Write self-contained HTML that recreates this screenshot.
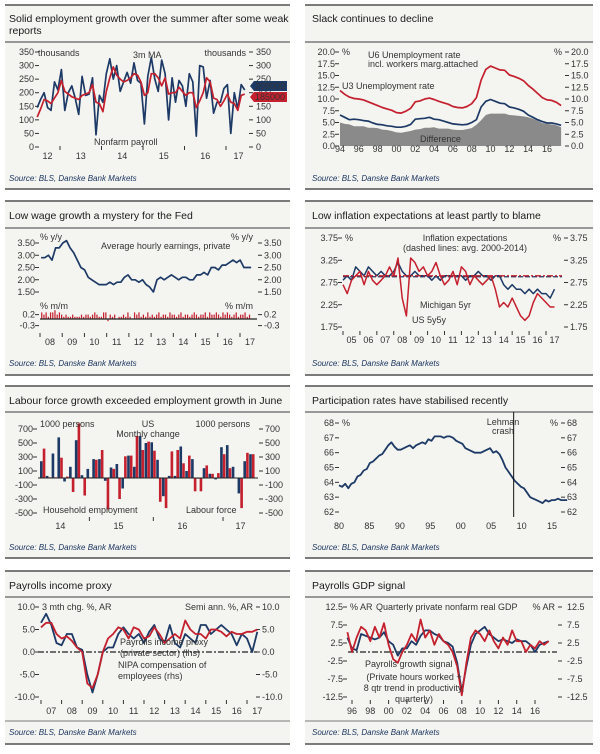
<!DOCTYPE html>
<html><head><meta charset="utf-8"><style>
html,body{margin:0;padding:0;background:#fff;}
svg{display:block;font-family:"Liberation Sans",sans-serif;}
.ttl{font-size:10.5px;fill:#1a1a1a;}
.src{font-size:8px;font-style:italic;fill:#1b3560;}
.tk{font-size:9px;fill:#333;}
</style></head><body>
<svg id="root" width="600" height="754" viewBox="0 0 600 754" xmlns="http://www.w3.org/2000/svg">
<g>
<rect x="5" y="5" width="285" height="184" fill="#f4f4f0"/>
<rect x="305" y="5" width="288" height="184" fill="#f4f4f0"/>
<rect x="5" y="201" width="285" height="174" fill="#f4f4f0"/>
<rect x="305" y="201" width="288" height="174" fill="#f4f4f0"/>
<rect x="5" y="386" width="285" height="172" fill="#f4f4f0"/>
<rect x="305" y="386" width="288" height="172" fill="#f4f4f0"/>
<rect x="5" y="571" width="285" height="173" fill="#f4f4f0"/>
<rect x="305" y="571" width="288" height="173" fill="#f4f4f0"/>
</g>
<g stroke="#7a7a7a">
<line x1="5" x2="290" y1="5" y2="5" stroke-width="2"/><line x1="5" x2="290" y1="42" y2="42" stroke-width="1.5"/><line x1="5" x2="290" y1="189" y2="189" stroke-width="2"/>
<line x1="305" x2="593" y1="5" y2="5" stroke-width="2"/><line x1="305" x2="593" y1="42" y2="42" stroke-width="1.5"/><line x1="305" x2="593" y1="189" y2="189" stroke-width="2"/>
<line x1="5" x2="290" y1="201" y2="201" stroke-width="2"/><line x1="5" x2="290" y1="228" y2="228" stroke-width="1.5"/><line x1="5" x2="290" y1="375" y2="375" stroke-width="2"/>
<line x1="305" x2="593" y1="201" y2="201" stroke-width="2"/><line x1="305" x2="593" y1="228" y2="228" stroke-width="1.5"/><line x1="305" x2="593" y1="375" y2="375" stroke-width="2"/>
<line x1="5" x2="290" y1="386" y2="386" stroke-width="2"/><line x1="5" x2="290" y1="412" y2="412" stroke-width="1.5"/><line x1="5" x2="290" y1="558" y2="558" stroke-width="2"/>
<line x1="305" x2="593" y1="386" y2="386" stroke-width="2"/><line x1="305" x2="593" y1="412" y2="412" stroke-width="1.5"/><line x1="305" x2="593" y1="558" y2="558" stroke-width="2"/>
<line x1="5" x2="290" y1="571" y2="571" stroke-width="2"/><line x1="5" x2="290" y1="597" y2="597" stroke-width="1.5"/><line x1="5" x2="290" y1="721" y2="721" stroke-width="1"/><line x1="5" x2="290" y1="744" y2="744" stroke-width="2"/>
<line x1="305" x2="593" y1="571" y2="571" stroke-width="2"/><line x1="305" x2="593" y1="597" y2="597" stroke-width="1.5"/><line x1="305" x2="593" y1="721" y2="721" stroke-width="1"/><line x1="305" x2="593" y1="744" y2="744" stroke-width="2"/>
</g>
<text class="ttl" x="9" y="22">Solid employment growth over the summer after some weak</text>
<text class="ttl" x="9" y="34">reports</text>
<text class="ttl" x="312" y="22">Slack continues to decline</text>
<text class="ttl" x="9" y="219">Low wage growth a mystery for the Fed</text>
<text class="ttl" x="312" y="219">Low inflation expectations at least partly to blame</text>
<text class="ttl" x="9" y="404">Labour force growth exceeded employment growth in June</text>
<text class="ttl" x="312" y="404">Participation rates have stabilised recently</text>
<text class="ttl" x="9" y="589">Payrolls income proxy</text>
<text class="ttl" x="312" y="589">Payrolls GDP signal</text>
<text class="src" x="9" y="181">Source: BLS, Danske Bank Markets</text>
<text class="src" x="312" y="181">Source: BLS, Danske Bank Markets</text>
<text class="src" x="9" y="366">Source: BLS, Danske Bank Markets</text>
<text class="src" x="312" y="366">Source: BLS, Danske Bank Markets</text>
<text class="src" x="9" y="550">Source: BLS, Danske Bank Markets</text>
<text class="src" x="312" y="550">Source: BLS, Danske Bank Markets</text>
<text class="src" x="9" y="735">Source: BLS, Danske Bank Markets</text>
<text class="src" x="312" y="735">Source: BLS, Danske Bank Markets</text>
<g id="charts"></g>
</svg>
<script>
var NAVY = '#1d3a66', RED = '#c4202e';
// Chart 1: payrolls
var payrollStart = 2012.45, payrollEnd = 2017.45;
var payrollValues = [145,175,200,145,135,240,210,285,135,200,225,180,120,260,190,195,255,45,190,165,270,325,250,300,205,240,275,235,310,245,235,85,260,330,250,205,320,270,100,255,165,245,225,150,270,240,40,300,295,180,245,125,165,165,215,230,50,200,140,230,210];
var payrollMA = [110,140,175,170,160,180,200,245,205,195,185,180,175,190,195,200,230,165,160,130,205,255,295,265,250,240,245,255,270,265,240,190,200,270,270,255,225,255,195,200,200,220,205,190,200,200,145,170,200,255,240,180,175,150,170,195,165,160,135,190,195];
var payrollTicks = [0,50,100,150,200,250,300,350];
var payrollYearLabels = ['12','13','14','15','16','17'];
var payrollYearPos = [2012.7,2013.5,2014.5,2015.5,2016.5,2017.3];
var payrollLastLabels = ['209000','185000'];
// Chart 2: unemployment
var unempStart = 1994, unempEnd = 2017.5;
var u6Values = [11.8,11.0,10.4,10.1,10.0,9.8,9.4,9.0,8.6,8.2,7.9,7.6,7.1,7.0,7.4,8.0,9.4,9.6,10.0,10.2,9.9,9.5,9.2,8.9,8.4,8.2,8.1,8.4,9.0,10.3,14.0,16.3,17.0,16.6,16.2,16.1,15.1,14.8,14.4,13.9,12.9,12.1,11.2,10.3,9.8,9.7,9.3,8.6];
var u3Values = [6.6,6.1,5.6,5.7,5.6,5.4,5.3,4.9,4.6,4.5,4.3,4.2,4.0,4.0,4.2,4.6,5.7,5.8,5.9,6.1,5.7,5.6,5.3,5.0,4.7,4.6,4.5,4.6,5.0,5.6,8.3,9.5,9.9,9.5,9.1,9.0,8.3,8.1,7.8,7.4,6.6,6.1,5.6,5.2,4.9,4.9,4.7,4.4];
var unempTicks = [0,2.5,5,7.5,10,12.5,15,17.5,20];
var unempTickLabels = ['0.0','2.5','5.0','7.5','10.0','12.5','15.0','17.5','20.0'];
var unempYears = [1994,1996,1998,2000,2002,2004,2006,2008,2010,2012,2014,2016];
var unempYearLabels = ['94','96','98','00','02','04','06','08','10','12','14','16'];
// Chart 3: wages
var wageStart = 2008.05, wageEnd = 2017.5;
var ahyValues = [2.9,2.9,3.0,2.8,3.3,3.3,3.5,3.6,3.3,3.1,2.8,2.5,2.4,2.1,2.0,1.9,1.8,1.8,1.8,1.9,1.8,1.9,1.9,2.1,2.2,2.0,2.0,1.9,2.0,1.8,1.7,1.5,2.0,2.1,2.0,2.1,2.2,2.1,2.0,2.1,2.1,2.0,2.0,2.2,2.2,2.3,2.2,2.5,2.5,2.4,2.6,2.6,2.7,2.8,2.7,2.8,2.5,2.5,2.5];
var mmValues = [0.3,0.2,0.3,0.1,0.3,0.3,0.4,0.2,0.3,0.2,0.1,0.2,0.1,0.1,0.2,0.1,0.1,0.1,0.2,0.1,0.2,0.2,0.1,0.2,0.3,0.2,0.1,0.1,0.3,0.3,-0.1,0.2,0.1,0.2,0.0,0.1,0.1,0.2,0.1,0.3,0.1,0.0,0.3,0.2,0.3,0.1,0.2,0.1,0.3,0.1,0.2,0.1,0.2,0.3,0.1,0.2,0.2,0.1,0.3,0.2,0.2,0.1,0.2,0.3,0.1,0.2,0.2,0.1,0.2,0.3,0.2,0.1,0.2,0.2,0.3,0.1,0.3,0.2,0.2,0.3,0.2,0.1,0.3,0.2,0.3,0.2,0.1,0.2,0.3,0.1,0.2,0.2,0.3,0.1,0.2];
var wageTicks = [1.5,2.0,2.5,3.0,3.5];
var wageTickLabels = ['1.50','2.00','2.50','3.00','3.50'];
var mmTicks = [-0.3,0.2];
var mmTickLabels = ['-0.3','0.2'];
var wageYears = [2008,2009,2010,2011,2012,2013,2014,2015,2016,2017];
var wageYearLabels = ['08','09','10','11','12','13','14','15','16','17'];
// Chart 4: inflation expectations
var inflStart = 2005, inflEnd = 2017.5;
var michValues = [2.8,2.9,2.8,3.1,3.0,2.9,3.1,3.0,2.9,3.0,2.9,2.9,3.0,3.2,3.0,2.9,2.9,3.0,2.9,2.9,2.9,2.8,2.9,2.8,2.9,2.9,2.9,2.9,2.9,2.8,2.9,2.9,3.0,2.9,2.9,2.8,2.9,2.9,2.7,2.6,2.7,2.6,2.6,2.5,2.6,2.5,2.6,2.5,2.5,2.4,2.6];
var fwdValues = [2.7,2.5,2.8,2.9,3.0,2.7,3.0,2.8,2.7,2.8,2.9,3.1,2.9,3.3,2.4,2.0,3.3,3.2,3.0,3.1,2.9,3.0,3.2,2.9,2.7,2.8,3.0,2.7,3.1,3.0,2.7,2.9,2.8,2.7,2.8,2.9,2.6,2.2,2.3,2.2,2.4,2.2,2.0,1.9,2.0,2.3,2.5,2.4,2.3,2.2,2.2];
var inflAvg = [2.88,2.9];
var inflTicks = [1.75,2.25,2.75,3.25,3.75];
var inflTickLabels = ['1.75','2.25','2.75','3.25','3.75'];
var inflYears = [2005,2006,2007,2008,2009,2010,2011,2012,2013,2014,2015,2016,2017];
var inflYearLabels = ['05','06','07','08','09','10','11','12','13','14','15','16','17'];
// Chart 5: labour force
var hhValues = [240,30,350,580,-50,160,540,40,130,270,270,-40,150,200,-150,320,160,600,500,510,260,-260,30,30,450,100,270,-10,140,60,-20,440,470,160,-220,240,340];
var lfValues = [420,10,10,290,20,-200,780,-250,10,260,400,-450,130,-300,310,320,600,400,520,390,-340,-430,380,400,210,320,-190,-190,180,60,70,340,140,0,-430,360,340];
var lfTicks = [-500,-300,-100,100,300,500,700];
var lfYearLabels = ['14','15','16','17'];
var lfYearIdx = [3,13,24,34];
// Chart 6: participation
var partStart = 1980, partEnd = 2017.5;
var partValues = [63.8,63.7,63.9,63.6,63.9,64.0,64.4,64.5,64.8,64.9,65.3,65.4,65.6,65.8,65.9,66.2,66.5,66.7,66.4,66.2,66.2,66.3,66.4,66.5,66.3,66.5,66.6,66.7,66.6,66.9,66.8,67.1,67.1,67.1,67.0,67.1,67.1,67.0,66.8,66.7,66.6,66.3,66.2,66.1,66.0,66.0,66.0,66.1,66.2,66.3,66.0,66.1,65.9,65.5,65.0,64.7,64.4,64.1,63.9,63.7,63.6,63.3,63.0,62.9,62.8,62.7,62.6,62.8,62.7,62.8,62.8,62.9,62.8,62.8,62.8];
var partTicks = [62,63,64,65,66,67,68];
var partYears = [1980,1985,1990,1995,2000,2005,2010,2015];
var partYearLabels = ['80','85','90','95','00','05','10','15'];
var lehmanYear = 2008.7;
// Chart 7: income proxy
var incStart = 2007, incEnd = 2017.5;
var nipaValues = [6.5,8.5,6,2,1.5,4,4,1,0.5,-5,-9,-5,0,1,1,4,5.5,4,3,4,2,4.5,6,3,2,6,2,1,4,3,2,6,6,4,5,6,5,4,1.5,4,3,0,4.5];
var proxyValues = [5.5,6.5,6.5,4,3,3.5,2.5,1,0,-7,-8,-5,0,3,4,5.5,5,3,5.5,5,3,3.5,5.5,4,2,3,4,3,7,5,4,4,3,5,5,4.5,3.5,4.5,4,4,4.5,4.5,5];
var incTicks = [-10,-5,0,5,10];
var incTickLabels = ['-10.0','-5.0','0.0','5.0','10.0'];
var incYears = [2007,2008,2009,2010,2011,2012,2013,2014,2015,2016,2017];
var incYearLabels = ['07','08','09','10','11','12','13','14','15','16','17'];
// Chart 8: GDP signal
var gdpStart = 1995.5, gdpEnd = 2017.5;
var signalValues = [4,1,0.5,5,4.5,4,3.5,4,5.5,3,2,-1,1,1,3,2,4.5,6,6,5,4.5,3,2.5,1.5,-3,-11,-4,2,5,6,7,5,4,3,3.5,3,2.5,3.5,3,3,2,0,2,2.5,3];
var gdpValues = [5.5,0,4,7,6,3,7,4,8,2,-2,-3,0,2,5,3,9,4,6,2,5,3,2,0,-4,-12,-3,4,6,5,3,6,3,1,4,2,6,3,3,0,2,1,3,2,3];
var gdpTicks = [-12.5,-7.5,-2.5,2.5,7.5,12.5];
var gdpTickLabels = ['-12.5','-7.5','-2.5','2.5','7.5','12.5'];
var gdpYears = [1996,1998,2000,2002,2004,2006,2008,2010,2012,2014,2016];
var gdpYearLabels = ['96','98','00','02','04','06','08','10','12','14','16'];

var NS = 'http://www.w3.org/2000/svg';
var root = document.getElementById('charts');
function mk(tag, attrs, parent) {
  var e = document.createElementNS(NS, tag);
  for (var k in attrs) e.setAttribute(k, attrs[k]);
  (parent || root).appendChild(e);
  return e;
}
function lin(d0, d1, p0, p1) { return function (v) { return p0 + (v - d0) * (p1 - p0) / (d1 - d0); }; }
function txt(x, y, s, cls, anchor, fill, size) {
  var t = mk('text', {x: x, y: y, 'class': cls || 'tk', 'text-anchor': anchor || 'start'});
  if (fill) t.setAttribute('fill', fill);
  if (size) t.setAttribute('font-size', size);
  t.textContent = s;
  return t;
}
function yAxis(name, ticks, labels, ys, L, R, lx, rx) {
  for (var i = 0; i < ticks.length; i++) {
    var y = ys(ticks[i]);
    var a = txt(lx, y + 3, labels[i], 'tk', 'end');
    
    
    var b = txt(rx, y + 3, labels[i], 'tk', 'start');
    
    
    var m1 = mk('line', {x1: L - 5, x2: L - 1, y1: y, y2: y, stroke: '#333', 'stroke-width': 1});
    
    
    var m2 = mk('line', {x1: R + 1, x2: R + 5, y1: y, y2: y, stroke: '#333', 'stroke-width': 1});
    
    
  }
}
function xLabels(name, vals, labels, xs, y) {
  for (var i = 0; i < vals.length; i++) {
    var t = txt(xs(vals[i]), y, labels[i], 'tk', 'middle');
    
    
  }
}
function xTicks(name, vals, xs, y) {
  for (var i = 0; i < vals.length; i++) {
    var l = mk('line', {x1: xs(vals[i]), x2: xs(vals[i]), y1: y, y2: y + 4, stroke: '#333', 'stroke-width': 1});
    
    
  }
}
function series(vals, t0, t1, xs, ys, color, w) {
  var d = '';
  for (var i = 0; i < vals.length; i++) {
    var t = t0 + (t1 - t0) * i / (vals.length - 1);
    d += (i ? 'L' : 'M') + xs(t).toFixed(1) + ' ' + ys(vals[i]).toFixed(1);
  }
  return mk('path', {d: d, fill: 'none', stroke: color, 'stroke-width': w || 1.6, 'stroke-linejoin': 'round'});
}

// ---- Chart 1
(function () {
  var xs = lin(2013, 2014, 60, 101.5), ys = lin(0, 350, 147, 52);
  yAxis('payroll', payrollTicks, payrollTicks.map(String), ys, 40, 248, 34, 256);
  xTicks('payroll', [2013, 2014, 2015, 2016, 2017], xs, 146);
  xLabels('payroll', payrollYearPos, payrollYearLabels, xs, 159);
  var p1 = series(payrollValues, payrollStart, payrollEnd, xs, ys, NAVY, 1.7);
  
  
  var p2 = series(payrollMA, payrollStart, payrollEnd, xs, ys, RED, 1.7);
  
  
  var cols = [NAVY, RED], vals = [payrollValues[payrollValues.length - 1], payrollMA[payrollMA.length - 1]];
  for (var i = 0; i < 2; i++) {
    var yy = 86 + i * 11;
    var bx = mk('path', {d: 'M250 ' + yy + 'L254 ' + (yy - 5) + 'H287V' + (yy + 5) + 'H254Z', fill: cols[i]});
    
    
    var bt = txt(270, yy + 3, payrollLastLabels[i], 'tk', 'middle', '#fff', '8px');
    
    
  }
  var a = txt(38, 56, 'thousands');  
  var b = txt(246, 56, 'thousands', 'tk', 'end');  
  var c = txt(133, 58, '3m MA', 'tk', 'start', RED, '10px');  
  var d = txt(94, 145, 'Nonfarm payroll', 'tk', 'start', NAVY, '10px');  
})();

// ---- Chart 2
(function () {
  var xs = lin(1994, 2016, 340, 547), ys = lin(0, 20, 146, 52);
  var top = '', bot = '';
  var n = u6Values.length;
  var d = '';
  for (var i = 0; i < n; i++) {
    var t = unempStart + (unempEnd - unempStart) * i / (n - 1);
    d += (i ? 'L' : 'M') + xs(t).toFixed(1) + ' ' + ys(u6Values[i] - u3Values[i] - 0.2).toFixed(1);
  }
  d += 'L' + xs(unempEnd) + ' ' + ys(0) + 'L' + xs(unempStart) + ' ' + ys(0) + 'Z';
  var ar = mk('path', {d: d, fill: '#8a8a8a'});
  
  
  yAxis('slack', unempTicks, unempTickLabels, ys, 340, 564, 335, 571);
  xLabels('slack', unempYears, unempYearLabels, xs, 152);
  var a = series(u6Values, unempStart, unempEnd, xs, ys, RED, 1.7);
   
  var b = series(u3Values, unempStart, unempEnd, xs, ys, NAVY, 1.7);
   
  var t1 = txt(368, 58, 'U6 Unemployment rate', 'tk', 'start', RED, '10px');  
  var t2 = txt(368, 67, 'incl. workers marg.attached', 'tk', 'start', RED, '10px');  
  var t3 = txt(342, 89, 'U3 Unemployment rate', 'tk', 'start', NAVY, '10px');  
  var t4 = txt(420, 142, 'Difference', 'tk', 'start', '#fff', '10px');  
  var t5 = txt(342, 55, '%');  
  var t6 = txt(562, 55, '%', 'tk', 'end');  
})();

// ---- Chart 3
(function () {
  var xs = lin(2008, 2017, 40, 240), ys = lin(1.5, 3.5, 292, 243), yb = lin(0, 0.5, 319, 308);
  yAxis('wage', wageTicks, wageTickLabels, ys, 40, 257, 35, 264);
  yAxis('wage-mm', mmTicks, mmTickLabels, yb, 40, 257, 35, 264);
  xTicks('wage', wageYears, xs, 333);
  xLabels('wage', wageYears.map(function (y) { return y + 0.45; }), wageYearLabels, xs, 345);
  var bw = (xs(wageEnd) - xs(wageStart)) / mmValues.length;
  for (var i = 0; i < mmValues.length; i++) {
    var v = mmValues[i], x = xs(wageStart) + i * bw;
    var r = mk('rect', {x: x, y: Math.min(yb(v), yb(0)), width: Math.max(bw * 0.55, 0.8), height: Math.abs(yb(v) - yb(0)), fill: RED});
    
    
  }
  var z = mk('line', {x1: 40, x2: 257, y1: yb(0), y2: yb(0), stroke: '#222', 'stroke-width': 1.2});
   
  var s = series(ahyValues, wageStart, wageEnd, xs, ys, NAVY, 1.7);
   
  var t1 = txt(101, 249, 'Average hourly earnings, private', 'tk', 'start', NAVY, '9.5px');  
  var t2 = txt(40, 240, '% y/y');  
  var t3 = txt(253, 240, '% y/y', 'tk', 'end');  
  var t4 = txt(40, 309, '% m/m');  
  var t5 = txt(253, 309, '% m/m', 'tk', 'end');  
})();

// ---- Chart 4
(function () {
  var xs = lin(2005, 2017, 343, 546), ys = lin(1.75, 3.75, 327, 238);
  yAxis('infl', inflTicks, inflTickLabels, ys, 343, 563, 338, 570);
  xTicks('infl', inflYears, xs, 331);
  xLabels('infl', inflYears.map(function (y) { return y + 0.5; }), inflYearLabels, xs, 343);
  var a1 = mk('line', {x1: 343, x2: 562, y1: ys(inflAvg[0]), y2: ys(inflAvg[0]), stroke: NAVY, 'stroke-width': 1.3, 'stroke-dasharray': '5 2'});
   
  var b = series(michValues, inflStart, inflEnd, xs, ys, NAVY, 1.5);
   
  var a = series(fwdValues, inflStart, inflEnd, xs, ys, RED, 1.5);
   
  var a2 = mk('line', {x1: 343, x2: 562, y1: ys(inflAvg[1]), y2: ys(inflAvg[1]), stroke: RED, 'stroke-width': 1.3, 'stroke-dasharray': '6 2 2 2'});
   
  var t1 = txt(465, 241, 'Inflation expectations', 'tk', 'middle', '#222', '9.5px');  
  var t2 = txt(465, 251, '(dashed lines: avg. 2000-2014)', 'tk', 'middle', '#222', '9.5px');  
  var t3 = txt(420, 308, 'Michigan 5yr', 'tk', 'start', NAVY, '10px');  
  var t4 = txt(412, 323, 'US 5y5y', 'tk', 'start', RED, '10px');  
  var t5 = txt(345, 241, '%');  
  var t6 = txt(561, 241, '%', 'tk', 'end');  
})();

// ---- Chart 5
(function () {
  var ys = lin(0, 700, 478, 429);
  var n = hhValues.length, x0 = 40, pw = (255 - 40) / n;
  yAxis('labour', lfTicks, lfTicks.map(String), ys, 38, 258, 33, 265);
  for (var i = 0; i < n; i++) {
    var h = mk('rect', {x: x0 + i * pw, y: Math.min(ys(hhValues[i]), ys(0)), width: pw * 0.45, height: Math.abs(ys(hhValues[i]) - ys(0)), fill: NAVY});
    
    
    var l = mk('rect', {x: x0 + i * pw + pw * 0.47, y: Math.min(ys(lfValues[i]), ys(0)), width: pw * 0.45, height: Math.abs(ys(lfValues[i]) - ys(0)), fill: RED});
    
    
  }
  var z = mk('line', {x1: 38, x2: 258, y1: ys(0), y2: ys(0), stroke: '#222', 'stroke-width': 1});
   
  for (var j = 0; j < lfYearLabels.length; j++) {
    var t = txt(x0 + lfYearIdx[j] * pw + pw / 2, 529, lfYearLabels[j], 'tk', 'middle');
    
    
  }
  var tk = [8.5, 19.5, 31.5];
  for (var k = 0; k < tk.length; k++) {
    var m = mk('line', {x1: x0 + tk[k] * pw, x2: x0 + tk[k] * pw, y1: 517, y2: 521, stroke: '#333'});
     
  }
  var t1 = txt(40, 427, '1000 persons');  
  var t2 = txt(250, 427, '1000 persons', 'tk', 'end');  
  var t3 = txt(148, 427, 'US', 'tk', 'middle');  
  var t4 = txt(148, 437, 'Monthly change', 'tk', 'middle');  
  var t5 = txt(43, 513, 'Household employment', 'tk', 'start', NAVY, '10px');  
  var t6 = txt(186, 513, 'Labour force', 'tk', 'start', RED, '10px');  
})();

// ---- Chart 6
(function () {
  var xs = lin(1980, 2015, 339, 552), ys = lin(62, 68, 512, 423);
  yAxis('part', partTicks, partTicks.map(String), ys, 340, 560, 334, 567);
  xLabels('part', partYears, partYearLabels, xs, 529);
  var s = series(partValues, partStart, partEnd, xs, ys, NAVY, 1.8);
   
  var v = mk('line', {x1: xs(lehmanYear), x2: xs(lehmanYear), y1: 412, y2: 517, stroke: '#111', 'stroke-width': 1});
   
  var t1 = txt(503, 425, 'Lehman', 'tk', 'middle', '#222', '7.5px');  
  var t2 = txt(503, 434, 'crash', 'tk', 'middle', '#222', '7.5px');  
  var t3 = txt(342, 426, '%');  
  var t4 = txt(558, 426, '%', 'tk', 'end');  
})();

// ---- Chart 7
(function () {
  var xs = lin(2007, 2017, 41, 247), ys = lin(-10, 10, 697, 607);
  yAxis('income', incTicks, incTickLabels, ys, 40, 255, 35, 262);
  xTicks('income', incYears, xs, 700);
  xLabels('income', incYears.map(function (y) { return y + 0.5; }), incYearLabels, xs, 714);
  var z = mk('line', {x1: 38, x2: 257, y1: ys(0), y2: ys(0), stroke: '#222', 'stroke-width': 1.2, 'stroke-dasharray': '6 2 2 2'});
   
  var a = series(nipaValues, incStart, incEnd, xs, ys, NAVY, 1.8);
   
  var b = series(proxyValues, incStart, incEnd, xs, ys, RED, 1.8);
   
  var t1 = txt(120, 645, 'Payrolls income proxy', 'tk', 'start', RED, '9.5px');  
  var t2 = txt(120, 656, '(private sector) (lhs)', 'tk', 'start', RED, '9.5px');  
  var t3 = txt(118, 668, 'NIPA compensation of', 'tk', 'start', NAVY, '9.5px');  
  var t4 = txt(118, 679, 'employees (rhs)', 'tk', 'start', NAVY, '9.5px');  
  var t5 = txt(42, 610, '3 mth chg. %, AR');  
  var t6 = txt(253, 610, 'Semi ann. %, AR', 'tk', 'end');  
})();

// ---- Chart 8
(function () {
  var xs = lin(1996, 2016, 352, 535), ys = lin(-12.5, 12.5, 697, 607);
  yAxis('gdp', gdpTicks, gdpTickLabels, ys, 348, 557, 343, 567);
  xTicks('gdp', gdpYears, xs, 700);
  xLabels('gdp', gdpYears, gdpYearLabels, xs, 714);
  var z = mk('line', {x1: 348, x2: 557, y1: ys(0), y2: ys(0), stroke: '#222', 'stroke-width': 1.2, 'stroke-dasharray': '6 2 2 2'});
   
  var a = series(signalValues, gdpStart, gdpEnd, xs, ys, NAVY, 1.8);
   
  var b = series(gdpValues, gdpStart, gdpEnd, xs, ys, RED, 1.8);
   
  var t1 = txt(376, 610, 'Quarterly private nonfarm real GDP', 'tk', 'start', RED, '9.5px');  
  var t2 = txt(365, 667, 'Payrolls growth signal', 'tk', 'start', NAVY, '9.5px');  
  var t3 = txt(414, 680, '(Private hours worked +', 'tk', 'middle', NAVY, '9.5px');  
  var t4 = txt(414, 691, '8 qtr trend in productivity,', 'tk', 'middle', NAVY, '9.5px');  
  var t5 = txt(414, 702, 'quarterly)', 'tk', 'middle', NAVY, '9.5px');  
  var t6 = txt(350, 610, '% AR');  
  var t7 = txt(555, 610, '% AR', 'tk', 'end');  
})();
</script>
</body></html>
